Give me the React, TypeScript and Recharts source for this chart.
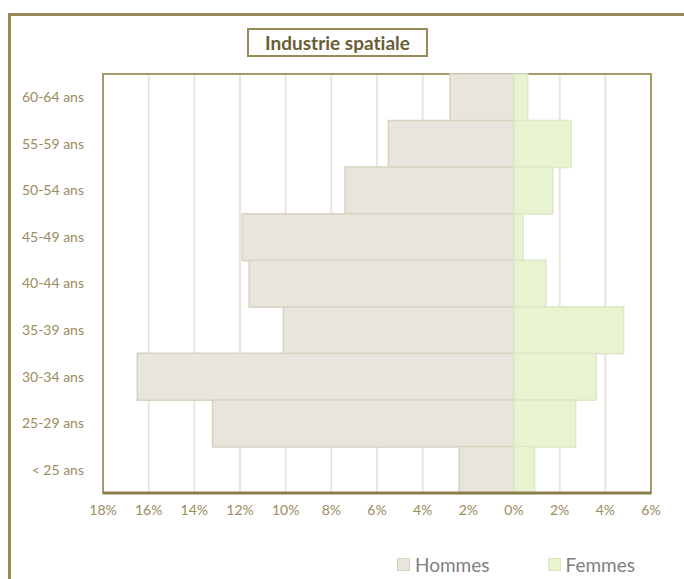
import {
  BarChart,
  Bar,
  XAxis,
  YAxis,
  CartesianGrid,
  ReferenceArea,
  Legend,
} from "recharts";

const AGE_GROUPS = [
  "60-64 ans",
  "55-59 ans",
  "50-54 ans",
  "45-49 ans",
  "40-44 ans",
  "35-39 ans",
  "30-34 ans",
  "25-29 ans",
  "< 25 ans",
];
const HOMMES = [2.8, 5.5, 7.4, 11.9, 11.6, 10.1, 16.5, 13.2, 2.4];
const FEMMES = [0.6, 2.5, 1.7, 0.4, 1.4, 4.8, 3.6, 2.7, 0.9];
const X_TICKS = [-18, -16, -14, -12, -10, -8, -6, -4, -2, 0, 2, 4, 6];

const OLIVE = "#978A56";
const LABEL = "#9A8C5E";
const FONT = "Lato, 'Open Sans', sans-serif";

const data = AGE_GROUPS.map((age, i) => ({
  age,
  hommes: -HOMMES[i],
  femmes: FEMMES[i],
}));

const LegendContent = () => (
  <div
    style={{
      display: "flex",
      fontFamily: FONT,
      fontSize: 19,
      color: "#7F7F7F",
      gap: 58,
    }}
  >
    {[
      { name: "Hommes", fill: "#E8E6DC", stroke: "#D8D2BE" },
      { name: "Femmes", fill: "#E8F4D0", stroke: "#D9E6BF" },
    ].map((s) => (
      <div key={s.name} style={{ display: "flex", alignItems: "center" }}>
        <span
          style={{
            display: "inline-block",
            width: 11,
            height: 11,
            background: s.fill,
            border: `1px solid ${s.stroke}`,
            marginRight: 5,
          }}
        />
        {s.name}
      </div>
    ))}
  </div>
);

const App = () => {
  return (
    <div
      style={{
        position: "absolute",
        left: 0,
        top: 0,
        width: 684,
        height: 579,
        overflow: "hidden",
        background: "#fff",
      }}
    >
      <div
        style={{
          position: "absolute",
          left: 8,
          top: 13,
          width: 720,
          height: 640,
          border: `3px solid ${OLIVE}`,
          boxSizing: "border-box",
        }}
      />
      <div
        style={{
          position: "absolute",
          left: 247,
          top: 28,
          width: 181,
          height: 29,
          boxSizing: "border-box",
          border: `2px solid ${OLIVE}`,
          display: "flex",
          alignItems: "center",
          justifyContent: "center",
          fontFamily: FONT,
          fontWeight: "bold",
          fontSize: 19,
          fontVariantLigatures: "none",
          color: "#6B5E35",
        }}
      >
        Industrie spatiale
      </div>
      <BarChart
        width={684}
        height={579}
        data={data}
        layout="vertical"
        stackOffset="sign"
        barCategoryGap={0}
        margin={{ top: 74, right: 33, bottom: 56, left: 0 }}
        style={{ position: "absolute", left: 0, top: 0 }}
      >
        <CartesianGrid
          horizontal={false}
          stroke="#EAE6DA"
          strokeWidth={2}
        />
        <XAxis
          type="number"
          domain={[-18, 6]}
          ticks={X_TICKS}
          height={30}
          axisLine={{ stroke: "#8B7D4B", strokeWidth: 3 }}
          tickLine={false}
          tickSize={0}
          tickMargin={12}
          tick={{ fill: LABEL, fontSize: 14, fontFamily: FONT }}
          tickFormatter={(v: number) => `${Math.abs(v)}%`}
        />
        <YAxis
          type="category"
          dataKey="age"
          width={103}
          axisLine={false}
          tickLine={false}
          tickSize={0}
          tickMargin={19}
          tick={{ fill: LABEL, fontSize: 14, fontFamily: FONT }}
        />
        <ReferenceArea
          x1={-18}
          x2={6}
          fill="none"
          stroke="#A69A6A"
          strokeWidth={2}
        />
        <Bar
          dataKey="hommes"
          name="Hommes"
          stackId="a"
          fill="#E8E6DC"
          stroke="#D8D2BE"
          strokeWidth={1.5}
          isAnimationActive={false}
        />
        <Bar
          dataKey="femmes"
          name="Femmes"
          stackId="a"
          fill="#E8F4D0"
          stroke="#DDE6C6"
          strokeWidth={1.5}
          isAnimationActive={false}
        />
        <Legend
          layout="horizontal"
          verticalAlign="middle"
          align="center"
          content={() => <LegendContent />}
          wrapperStyle={{ top: 553, left: 397, width: 270 }}
        />
      </BarChart>
    </div>
  );
};

export default App;
